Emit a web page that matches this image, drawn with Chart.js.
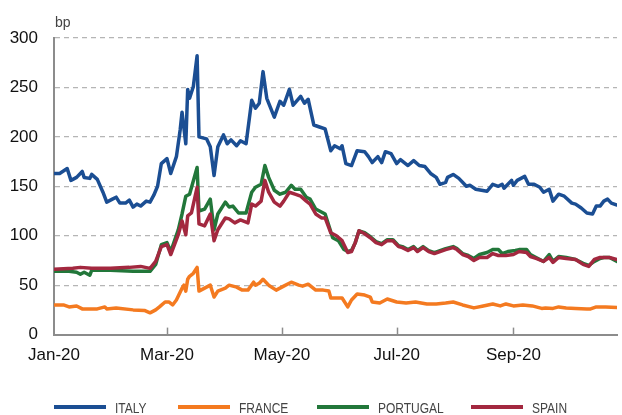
<!DOCTYPE html>
<html>
<head>
<meta charset="utf-8">
<script src="https://cdn.jsdelivr.net/npm/chart.js@4"></script>
<style>
	body { margin: 0; background: #fff; }
	#wrap { position: relative; width: 622px; height: 415px; }
	#legend { position: absolute; left: 0; top: 399px; width: 622px; height: 16px;
		font-family: "Liberation Sans", Arial, sans-serif; font-size: 15px; color: #444; }
	.item { position: absolute; top: 0; height: 16px; display: flex; align-items: center; white-space: nowrap; }
	.swatch { width: 52px; height: 4px; margin-right: 9px; }
	.txt { display: inline-block; transform: scaleX(0.8); transform-origin: left center; }
</style>
</head>
<body>
<div id="wrap">
	<canvas id="cnv_spreads" width="622" height="415"></canvas>
	<div id="legend"></div>
</div>
<script>
// Month ticks (days since 1 Jan 2020)
const monthDays = [0, 60, 121, 182, 244];
const monthLabels = ['Jan-20', 'Mar-20', 'May-20', 'Jul-20', 'Sep-20'];

// Italy
const italyDays = [0, 3, 7, 9, 12, 15, 16, 19, 20, 23, 26, 28, 31, 33, 35, 38, 40, 42, 44, 46, 49, 51, 53, 55, 57, 60, 62, 65, 67, 68, 70, 71, 72, 74, 76, 77, 81, 83, 85, 87, 90, 92, 94, 97, 99, 102, 105, 107, 109, 111, 113, 117, 120, 122, 125, 127, 131, 133, 135, 138, 141, 144, 147, 149, 152, 153, 155, 158, 161, 165, 167, 169, 172, 174, 176, 179, 182, 184, 188, 191, 194, 197, 200, 203, 205, 208, 209, 212, 215, 219, 221, 224, 230, 233, 236, 238, 239, 243, 244, 246, 250, 252, 255, 258, 260, 263, 265, 268, 271, 275, 277, 280, 283, 286, 288, 290, 292, 294, 296, 299];
const italyBp = [163, 163, 168, 156, 159, 165, 159, 158, 162, 157, 144, 134, 137, 139, 133, 133, 136, 129, 132, 130, 135, 134, 141, 150, 173, 178, 163, 180, 207, 225, 193, 248, 239, 251, 282, 200, 198, 190, 161, 190, 202, 193, 197, 191, 196, 193, 237, 229, 234, 266, 239, 220, 236, 232, 248, 232, 241, 234, 238, 212, 210, 208, 186, 191, 188, 191, 173, 171, 186, 185, 180, 174, 180, 174, 185, 183, 173, 177, 171, 176, 171, 170, 163, 159, 152, 154, 159, 162, 158, 150, 151, 147, 145, 152, 150, 152, 148, 156, 151, 156, 160, 152, 152, 149, 144, 147, 135, 142, 140, 133, 132, 128, 123, 122, 130, 130, 135, 137, 133, 131];

// France
const franceDays = [0, 5, 8, 12, 15, 23, 27, 28, 33, 42, 48, 51, 54, 56, 59, 61, 63, 65, 68, 69, 70, 71, 72, 74, 76, 77, 80, 83, 85, 87, 91, 93, 97, 100, 103, 106, 107, 109, 111, 114, 118, 122, 126, 130, 132, 135, 139, 143, 146, 147, 153, 156, 158, 161, 165, 168, 169, 173, 177, 182, 187, 192, 198, 203, 208, 212, 217, 223, 228, 233, 237, 240, 244, 249, 254, 259, 261, 265, 268, 272, 277, 283, 285, 288, 293, 299];
const franceBp = [30, 30, 28, 29, 26, 26, 28, 26, 27, 25, 24.5, 22, 25, 28, 33, 33, 30, 35, 47, 50, 44, 56, 59, 62, 68, 44, 47, 50, 38, 44, 47, 50, 48, 45, 45, 53, 50, 52, 56, 50, 45, 49, 53, 50, 49, 51, 45, 45, 44, 37, 37, 28, 35, 41, 40, 38, 33, 32, 36, 33, 32, 33, 31, 31, 32, 33, 30, 27, 29, 31, 29, 31, 29, 30, 29, 26.5, 27, 26.5, 28, 27, 26.5, 26, 26, 28, 28, 27.5];

// Portugal
const portugalDays = [0, 8, 12, 14, 16, 19, 20, 30, 42, 51, 54, 57, 60, 62, 66, 68, 70, 72, 76, 77, 80, 83, 85, 87, 91, 93, 95, 98, 102, 105, 107, 110, 112, 114, 117, 120, 123, 126, 128, 131, 134, 136, 139, 141, 144, 148, 151, 154, 156, 158, 160, 162, 165, 168, 171, 174, 177, 180, 183, 185, 188, 191, 193, 196, 199, 202, 205, 208, 212, 214, 217, 220, 223, 226, 230, 233, 236, 238, 241, 245, 247, 251, 253, 256, 260, 263, 265, 268, 272, 277, 281, 284, 287, 290, 292, 295, 299];
const portugalBp = [64, 64, 63, 61, 63, 60, 65, 65, 64, 64, 71, 91, 93, 84, 106, 122, 140, 142, 169, 125, 127, 137, 106, 122, 134, 129, 130, 123, 123, 144, 149, 152, 171, 159, 146, 142, 144, 151, 147, 147, 139, 137, 127, 125, 122, 98, 95, 86, 84, 85, 93, 105, 103, 99, 94, 92, 96, 96, 90, 89, 86, 89, 85, 89, 85, 83, 85, 87, 89, 87, 82, 80, 77, 81, 83, 86, 86, 82, 84, 85, 86, 86, 81, 78, 74, 81, 74, 79, 78, 76, 72, 70, 74, 77, 78, 78, 74];

// Spain
const spainDays = [0, 10, 14, 20, 30, 40, 46, 51, 54, 57, 60, 62, 66, 68, 70, 71, 73, 76, 77, 80, 83, 85, 87, 91, 93, 96, 99, 103, 105, 107, 110, 112, 114, 117, 120, 122, 125, 128, 131, 134, 136, 139, 142, 144, 147, 150, 153, 156, 158, 160, 162, 165, 168, 171, 174, 177, 180, 183, 185, 188, 191, 193, 196, 199, 202, 205, 208, 212, 214, 217, 220, 223, 226, 230, 233, 236, 240, 244, 247, 251, 253, 256, 260, 263, 265, 268, 272, 277, 281, 284, 287, 290, 295, 299];
const spainBp = [66, 67, 68, 67, 67, 68, 69, 67, 74, 89, 91, 81, 101, 115, 101, 120, 123, 149, 112, 110, 122, 95, 106, 118, 117, 113, 116, 113, 132, 130, 135, 156, 144, 134, 130, 135, 144, 142, 140, 135, 132, 122, 118, 118, 103, 100, 95, 83, 84, 93, 105, 102, 98, 93, 91, 95, 95, 89, 88, 85, 88, 84, 88, 84, 82, 84, 86, 88, 86, 81, 79, 75, 78, 78, 82, 80, 80, 81, 84, 83, 79, 77, 74, 78, 73, 78, 77, 76, 71, 69, 76, 78, 78, 76];

// Legend item left edges (px)
const legendLeft = [54, 178, 317, 471];

const toPoints = (days, values) => days.map((d, i) => ({ x: d, y: values[i] }));

Chart.defaults.font.family = "'Liberation Sans', Arial, sans-serif";
Chart.defaults.font.size = 17;
Chart.defaults.color = '#111';

const axisGray = '#8c8c8c';

// "bp" unit above the axis + small month ticks pointing up into the plot
const extrasPlugin = {
	id: 'extras',
	afterDraw(chart) {
		const { ctx, chartArea, scales } = chart;
		ctx.save();
		ctx.font = "14px 'Liberation Sans', Arial, sans-serif";
		ctx.fillStyle = '#444';
		ctx.textBaseline = 'alphabetic';
		ctx.fillText('bp', chartArea.left + 1, 27);
		ctx.strokeStyle = axisGray;
		ctx.lineWidth = 1.5;
		monthDays.slice(1).forEach(d => {
			const x = Math.round(scales.x.getPixelForValue(d)) + 0.5;
			ctx.beginPath();
			ctx.moveTo(x, chartArea.bottom);
			ctx.lineTo(x, chartArea.bottom - 7);
			ctx.stroke();
		});
		ctx.restore();
	}
};

const line = (label, data, color, order) => ({
	label, data, order,
	borderColor: color,
	backgroundColor: color,
	borderWidth: 3.5,
	pointRadius: 0,
	tension: 0,
	borderJoinStyle: 'round',
	borderCapStyle: 'round'
});

const ctx = document.getElementById('cnv_spreads').getContext('2d');
const spreadsChart = new Chart(ctx, {
	type: 'line',
	plugins: [extrasPlugin],
	data: {
		datasets: [
			line('ITALY', toPoints(italyDays, italyBp), '#1B4E93', 0),
			line('FRANCE', toPoints(franceDays, franceBp), '#F47A20', 1),
			line('PORTUGAL', toPoints(portugalDays, portugalBp), '#22773A', 3),
			line('SPAIN', toPoints(spainDays, spainBp), '#A3283F', 2)
		]
	},
	options: {
		responsive: false,
		animation: false,
		layout: { padding: { top: 38, right: 5, bottom: 38, left: 0 } },
		plugins: { legend: { display: false }, tooltip: { enabled: false } },
		scales: {
			x: {
				type: 'linear',
				min: 0,
				max: 299,
				afterBuildTicks: scale => { scale.ticks = monthDays.map(v => ({ value: v })); },
				ticks: {
					autoSkip: false,
					maxRotation: 0,
					padding: 11,
					callback: value => monthLabels[monthDays.indexOf(value)]
				},
				grid: { display: false, drawTicks: false },
				border: { display: true, color: axisGray, width: 2 }
			},
			y: {
				min: 0,
				max: 300,
				afterFit: scale => { scale.width = 54; },
				ticks: { stepSize: 50, padding: 16 },
				grid: { color: '#b5b5b5', lineWidth: 1.2, drawTicks: false },
				border: { display: true, color: axisGray, width: 2, dash: [5, 4] }
			}
		}
	}
});

// Legend built from the datasets, in dataset order
document.getElementById('legend').innerHTML = spreadsChart.data.datasets.map((ds, i) =>
	`<div class="item" style="left:${legendLeft[i]}px"><span class="swatch" style="background:${ds.borderColor}"></span><span class="txt">${ds.label}</span></div>`
).join('');
</script>
</body>
</html>
